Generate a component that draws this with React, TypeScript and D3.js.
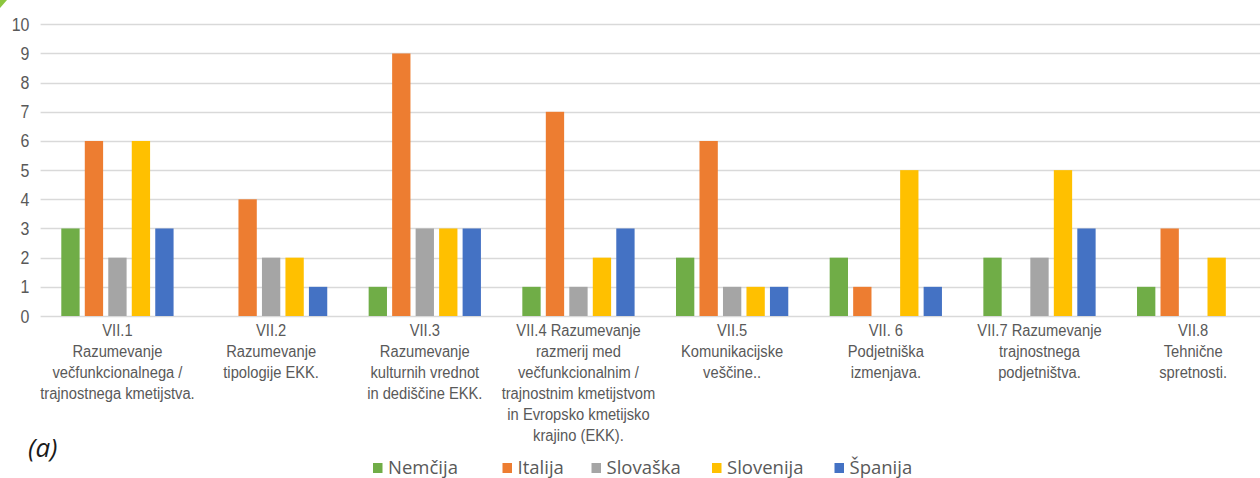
import React, { useEffect, useRef } from 'react';
import * as d3 from 'd3';

// category labels, already broken into lines as in the original chart
const categories = ['VII.1', 'VII.2', 'VII.3', 'VII.4', 'VII.5', 'VII.6', 'VII.7', 'VII.8'];
const categoryLines = [
  ['VII.1', 'Razumevanje', 'večfunkcionalnega /', 'trajnostnega kmetijstva.'],
  ['VII.2', 'Razumevanje', 'tipologije EKK.'],
  ['VII.3', 'Razumevanje', 'kulturnih vrednot', 'in dediščine EKK.'],
  ['VII.4 Razumevanje', 'razmerij med', 'večfunkcionalnim /', 'trajnostnim kmetijstvom', 'in Evropsko kmetijsko', 'krajino (EKK).'],
  ['VII.5', 'Komunikacijske', 'veščine..'],
  ['VII. 6', 'Podjetniška', 'izmenjava.'],
  ['VII.7 Razumevanje', 'trajnostnega', 'podjetništva.'],
  ['VII.8', 'Tehnične', 'spretnosti.'],
];

const seriesNames = ['Nemčija', 'Italija', 'Slovaška', 'Slovenija', 'Španija'];
const seriesColors = ['#70AD47', '#ED7D31', '#A5A5A5', '#FFC000', '#4472C4'];

const nemcija = [3, 0, 1, 1, 2, 2, 2, 1];
const italija = [6, 4, 9, 7, 6, 1, 0, 3];
const slovaska = [2, 2, 3, 1, 1, 0, 2, 0];
const slovenija = [6, 2, 3, 2, 1, 5, 5, 2];
const spanija = [3, 1, 3, 3, 1, 1, 3, 0];

const yTicks = [0, 1, 2, 3, 4, 5, 6, 7, 8, 9, 10];

const W = 1260;
const H = 478;
// no narrow font installed, so squeeze Liberation Sans horizontally instead
const SANS = "'Liberation Sans', Arial, sans-serif";

const App = () => {
  const ref = useRef<SVGSVGElement | null>(null);

  useEffect(() => {
    const svg = d3.select(ref.current);
    svg.selectAll('*').remove();

    const values = [nemcija, italija, slovaska, slovenija, spanija];

    const x = d3.scaleBand<string>().domain(categories).range([40.6, 1270]).padding(0);
    const inner = d3.scaleBand<string>().domain(seriesNames)
      .range([20.7, x.bandwidth() - 20.7]).paddingInner(0.22).paddingOuter(0);
    const y = d3.scaleLinear().domain([0, 10]).range([316, 24.3]);

    // little green corner piece
    svg.append('path').attr('d', 'M0,0 L7,0 L0,8 Z').attr('fill', '#8CC63E');

    // gridlines
    svg.append('g').selectAll('line').data(yTicks).enter().append('line')
      .attr('x1', 40.6).attr('x2', W)
      .attr('y1', d => Math.round(y(d)) + 0.5).attr('y2', d => Math.round(y(d)) + 0.5)
      .attr('stroke', '#D9D9D9').attr('stroke-width', 1.3);

    // y tick labels
    svg.append('g').selectAll('text').data(yTicks).enter().append('text')
      .attr('transform', d => `translate(29.5,${y(d) + 6.5}) scale(0.84,1)`)
      .attr('text-anchor', 'end')
      .style('font-family', SANS).style('font-size', '19px').attr('fill', '#595959')
      .text(d => d);

    // bars
    const groups = svg.append('g').selectAll('g').data(categories).enter().append('g')
      .attr('transform', c => `translate(${x(c)},0)`);
    groups.selectAll('rect')
      .data((c, ci) => seriesNames.map((s, si) => ({ s, v: values[si][ci], color: seriesColors[si] })))
      .enter().append('rect')
      .filter(d => d.v > 0)
      .attr('x', d => inner(d.s)!)
      .attr('width', inner.bandwidth())
      .attr('y', d => y(d.v))
      .attr('height', d => y(0) - y(d.v))
      .attr('fill', d => d.color);

    // category labels
    const labels = svg.append('g').selectAll('text').data(categories).enter().append('text')
      .attr('transform', c => `translate(${x(c)! + x.bandwidth() / 2},0) scale(0.92,1)`)
      .attr('text-anchor', 'middle')
      .style('font-family', SANS).style('font-size', '16px').attr('fill', '#595959');
    labels.each(function (c, i) {
      const t = d3.select(this);
      categoryLines[i].forEach((line, li) => {
        t.append('tspan')
          .attr('x', 0)
          .attr('y', 336.5 + li * 21)
          .text(line);
      });
    });

    // (a) marker
    svg.append('text').attr('x', 28).attr('y', 457)
      .style('font-family', "'Open Sans', sans-serif").style('font-style', 'italic')
      .style('font-size', '26px').attr('fill', '#1a1a1a').text('(a)');

    // legend
    const legendX = [373, 502.5, 591.5, 712, 834.5];
    const legend = svg.append('g').selectAll('g').data(seriesNames).enter().append('g')
      .attr('transform', (d, i) => `translate(${legendX[i]},463)`);
    legend.append('rect').attr('width', 9.5).attr('height', 10)
      .attr('fill', (d, i) => seriesColors[i]);
    legend.append('text').attr('x', 15).attr('y', 10.5)
      .style('font-family', "'Open Sans', sans-serif").style('font-size', '18.5px')
      .attr('fill', '#595959').text(d => d);
  }, []);

  return (
    <svg ref={ref} width={W} height={H}
      style={{ position: 'absolute', left: 0, top: 0, background: '#fff' }} />
  );
};

export default App;
